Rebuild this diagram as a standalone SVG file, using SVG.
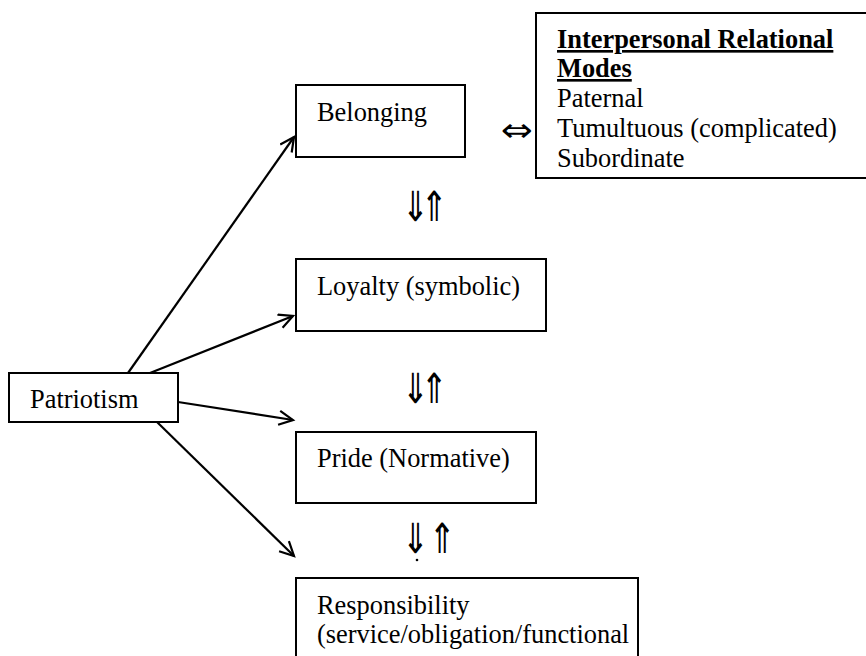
<svg xmlns="http://www.w3.org/2000/svg" width="866" height="656" viewBox="0 0 866 656">
<style>
.box{fill:#fff;stroke:#000;stroke-width:2}
.t{font-family:"Liberation Serif","Times New Roman",serif;font-size:26.4px;fill:#000}
.b{font-weight:bold;text-decoration:underline}
.sym{font-family:"DejaVu Sans",sans-serif;font-size:32px;fill:#000}
.con{stroke:#000;stroke-width:2.2;fill:none}
</style>
<defs>
<marker id="ah" markerWidth="20" markerHeight="20" refX="16" refY="8" orient="auto" markerUnits="userSpaceOnUse">
<path d="M2,1 L16,8 L2,15" fill="none" stroke="#000" stroke-width="2.2"/>
</marker>
</defs>
<rect width="866" height="656" fill="#fff"/>
<g id="connectors">
<line class="con" x1="128" y1="373" x2="294" y2="137" marker-end="url(#ah)"/>
<line class="con" x1="150" y1="373" x2="293" y2="316" marker-end="url(#ah)"/>
<line class="con" x1="178" y1="402" x2="293" y2="420" marker-end="url(#ah)"/>
<line class="con" x1="157" y1="422" x2="294" y2="556" marker-end="url(#ah)"/>
</g>
<g id="patriotism">
<rect class="box" x="9" y="373" width="169" height="49"/>
<text class="t" x="30" y="408">Patriotism</text>
</g>
<g id="belonging">
<rect class="box" x="296" y="85" width="169" height="72"/>
<text class="t" x="317" y="121">Belonging</text>
</g>
<g id="loyalty">
<rect class="box" x="296" y="259" width="250" height="72"/>
<text class="t" x="317" y="295">Loyalty (symbolic)</text>
</g>
<g id="pride">
<rect class="box" x="296" y="432" width="240" height="71"/>
<text class="t" x="317" y="467">Pride (Normative)</text>
</g>
<g id="responsibility">
<rect class="box" x="296" y="578" width="342" height="90"/>
<text class="t" x="317" y="614">Responsibility</text>
<text class="t" x="317" y="643">(service/obligation/functional</text>
</g>
<g id="modes">
<rect class="box" x="536" y="13" width="340" height="165"/>
<text class="t b" x="557" y="48">Interpersonal Relational</text>
<text class="t b" x="557" y="77">Modes</text>
<text class="t" x="557" y="107">Paternal</text>
<text class="t" x="557" y="137">Tumultuous (complicated)</text>
<text class="t" x="557" y="167">Subordinate</text>
</g>
<g id="symbols">
<text class="sym" x="501" y="141" font-size="24" textLength="32" lengthAdjust="spacingAndGlyphs">⇔</text>
<text class="sym" transform="translate(402,221) scale(1,1.3)" letter-spacing="-8">⇓⇑</text>
<text class="sym" transform="translate(402,403) scale(1,1.3)" letter-spacing="-8">⇓⇑</text>
<text class="sym" transform="translate(402,553) scale(1,1.3)" letter-spacing="0">⇓⇑</text>
<circle cx="417" cy="560" r="1.3" fill="#000"/>
</g>
</svg>
